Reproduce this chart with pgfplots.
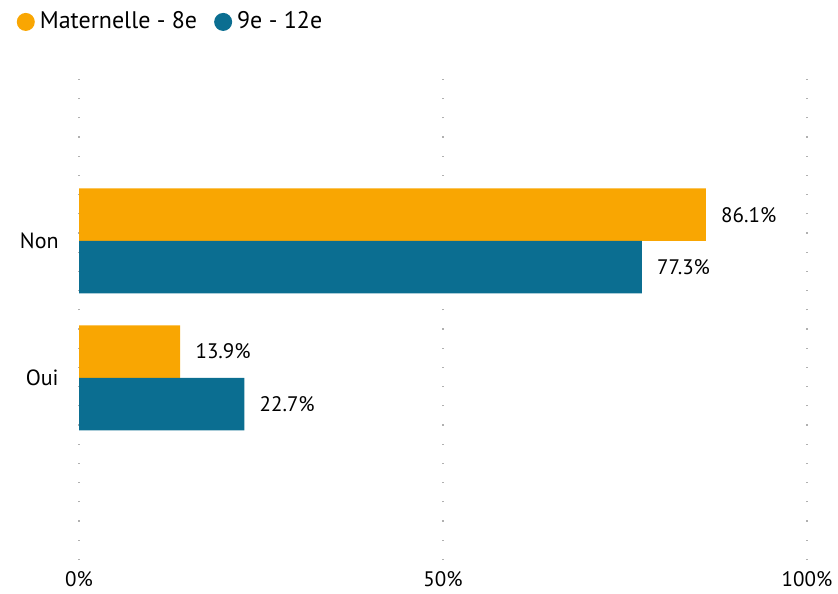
\documentclass[border=0pt]{standalone}
\usepackage{pgfplots}
\pgfplotsset{compat=1.18}
\usepackage{fontspec}
\setmainfont{PT Sans}
\definecolor{orangeK}{HTML}{F9A602}
\definecolor{blueK}{HTML}{0B6E91}
\definecolor{gridK}{HTML}{B0B0B0}
\begin{document}
\fontsize{10.5}{12}\selectfont
\begin{tikzpicture}
\path[use as bounding box] (-39.5pt,-16.5pt) rectangle (379.5pt,280pt);
\begin{axis}[
  at={(0,0)}, anchor=south west,
  scale only axis,
  width=364pt, height=247.5pt,
  xbar, bar width=26.25pt,
  xmin=0, xmax=100,
  ymin=-1.33, ymax=2.285,
  axis line style={draw=none},
  xtick={0,50,100},
  xticklabel={\pgfmathprintnumber{\tick}\%},
  ytick={0,1},
  yticklabels={Oui,Non},
  major tick length=0pt,
  /pgf/number format/assume math mode=true,
  xmajorgrids,
  major grid style={gridK, line width=0.6pt, dash pattern=on 0.6pt off 9pt},
  xticklabel style={yshift=-2pt},
  yticklabel style={xshift=-6.5pt, font=\fontsize{11}{12}\selectfont},
  nodes near coords={\pgfmathprintnumber[fixed,precision=1,fixed zerofill]{\pgfplotspointmeta}\%},
  nodes near coords style={anchor=west, inner sep=0pt, xshift=7.5pt, black},
  legend columns=2,
  legend style={at={(axis description cs:-0.086,1.087)}, anchor=west, draw=none, fill=none, inner sep=0pt,
    font=\fontsize{12}{13}\selectfont,
    /tikz/every even column/.append style={column sep=6pt},
    nodes={inner sep=2.5pt}},
  legend image code/.code={\fill[#1] (4.5pt,0pt) circle (4.5pt);},
  clip=false,
]
\addplot[fill=orangeK, draw=none, bar shift=13.125pt] coordinates {(86.1,1) (13.9,0)};
\addplot[fill=blueK, draw=none, bar shift=-13.125pt] coordinates {(77.3,1) (22.7,0)};
\legend{Maternelle - 8e, 9e - 12e}
\end{axis}
\end{tikzpicture}
\end{document}
